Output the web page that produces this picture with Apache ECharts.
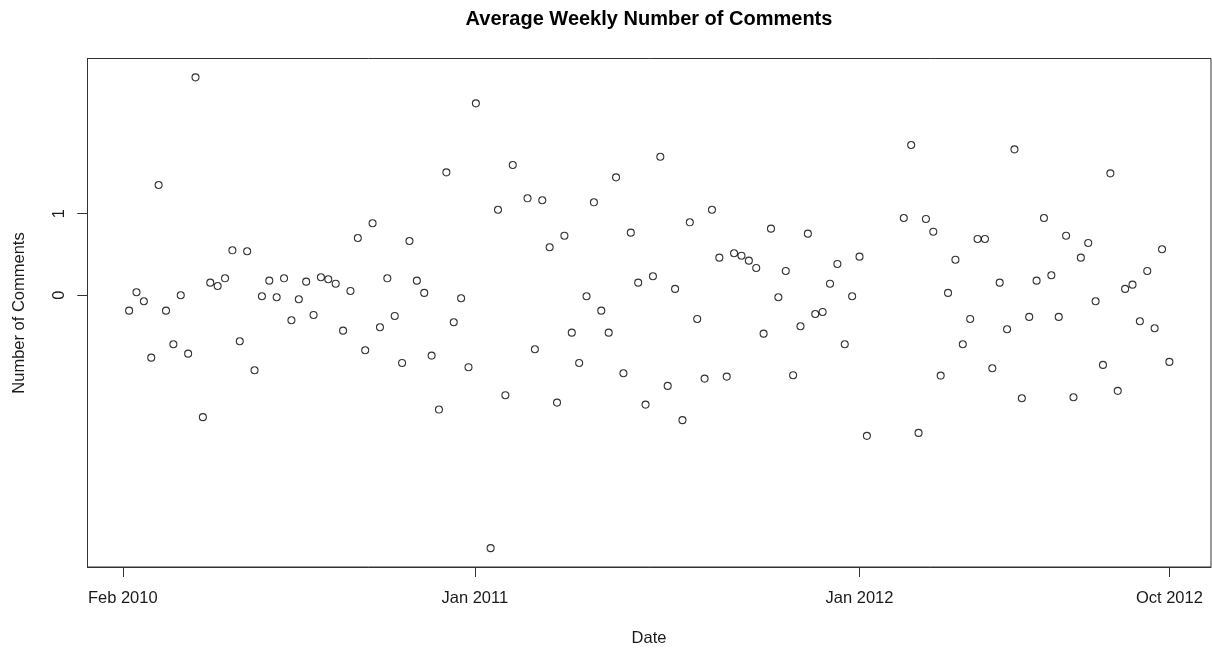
<!DOCTYPE html>
<html>
<head>
<meta charset="utf-8">
<title>Average Weekly Number of Comments</title>
<script src="https://cdn.jsdelivr.net/npm/echarts@6/dist/echarts.min.js"></script>
<style>
  html, body { margin: 0; padding: 0; background: #ffffff; }
  #chart { width: 1212px; height: 648px; }
</style>
</head>
<body>
<div id="chart"></div>
<script>
// First observed week (Sunday) and weekly averages; null = week without data
const firstWeek = '2010-02-07';
const weeklyComments = [
  -0.188, 0.037, -0.073, -0.764, 1.351, -0.188, -0.600, 0.000, -0.715, 2.670,
  -1.493, 0.155, 0.114, 0.208, 0.551, -0.563, 0.539, -0.918, -0.012, 0.179,
  -0.024, 0.208, -0.306, -0.049, 0.167, -0.241, 0.221, 0.196, 0.142, -0.433,
  0.053, 0.702, -0.673, 0.882, -0.392, 0.208, -0.253, -0.829, 0.665, 0.179,
  0.029, -0.739, -1.400, 1.506, -0.330, -0.036, -0.881, 2.351, null, -3.098,
  1.048, -1.224, 1.596, null, 1.188, -0.661, 1.164, 0.588, -1.315, 0.730,
  -0.458, -0.829, -0.012, 1.139, -0.188, -0.458, 1.445, -0.955, 0.767, 0.155,
  -1.339, 0.233, 1.697, -1.110, 0.078, -1.530, 0.894, -0.290, -1.021, 1.048,
  0.461, -0.996, 0.515, 0.485, 0.424, 0.335, -0.470, 0.816, -0.024, 0.298,
  -0.979, -0.379, 0.755, -0.229, -0.204, 0.142, 0.384, -0.600, -0.012, 0.473,
  -1.722, null, null, null, null, 0.947, 1.841, -1.686, 0.935, 0.779,
  -0.984, 0.029, 0.436, -0.600, -0.290, 0.690, 0.690, -0.894, 0.155, -0.416,
  1.788, -1.261, -0.265, 0.179, 0.947, 0.245, -0.265, 0.730, -1.249, 0.461,
  0.641, -0.073, -0.853, 1.494, -1.171, 0.078, 0.130, -0.318, 0.298, -0.404,
  0.564, -0.816
];

// Date axis ticks and their labels
const xTickDates = ['2010-02-01', '2011-01-01', '2012-01-01', '2012-10-21'];
const xTickLabels = ['Feb 2010', 'Jan 2011', 'Jan 2012', 'Oct 2012'];
// Value axis ticks
const yTickValues = [0, 1];

const DAY = 86400000;
const toMs = s => Date.parse(s + 'T00:00:00Z');
const start = toMs(firstWeek);

const points = [];
weeklyComments.forEach((v, i) => {
  if (v !== null) points.push([start + i * 7 * DAY, v]);
});

const xTicks = xTickDates.map(toMs);
const xFirst = start;
const xLast = start + (weeklyComments.length - 1) * 7 * DAY;
const xPad = (xLast - xFirst) * 0.04;

// 4% padding on both ends of the value range
const observed = weeklyComments.filter(v => v !== null);
const vMin = Math.min(...observed);
const vMax = Math.max(...observed);
const vPad = (vMax - vMin) * 0.04;

const FONT = '"Liberation Sans", Arial, Helvetica, sans-serif';
const INK = '#1a1a1a';
const FRAME = '#333';

const PLOT = { left: 87.5, top: 58.5, right: 1, bottom: 81 };
const TICK_LEN = 10;

const chart = echarts.init(document.getElementById('chart'), null, { renderer: 'canvas' });

chart.setOption({
  backgroundColor: '#ffffff',
  animation: false,
  grid: [
    {
      left: PLOT.left, top: PLOT.top, right: PLOT.right, bottom: PLOT.bottom,
      show: true, borderColor: FRAME, borderWidth: 1, backgroundColor: 'transparent'
    },
    // narrow strip left of the frame: its split lines at 0 and 1 form the outward value ticks
    {
      left: PLOT.left - TICK_LEN, width: TICK_LEN, top: PLOT.top, bottom: PLOT.bottom,
      show: false
    }
  ],
  xAxis: [
    {
      type: 'value',
      gridIndex: 0,
      position: 'bottom',
      min: xFirst - xPad,
      max: xLast + xPad,
      axisLine: { show: true, onZero: false, lineStyle: { color: FRAME, width: 1 } },
      splitLine: { show: false },
      axisTick: { show: true, length: TICK_LEN, lineStyle: { color: FRAME, width: 1 }, customValues: xTicks },
      axisLabel: {
        customValues: xTicks,
        margin: 23,
        fontFamily: FONT, fontSize: 16.5, color: INK,
        formatter: v => {
          const k = xTicks.indexOf(v);
          return k >= 0 ? xTickLabels[k] : '';
        }
      }
    },
    {
      type: 'value', gridIndex: 1, min: 0, max: 1, show: false
    }
  ],
  yAxis: [
    {
      type: 'value',
      gridIndex: 0,
      position: 'left',
      min: vMin - vPad,
      max: vMax + vPad,
      axisLine: { show: true, onZero: false, lineStyle: { color: FRAME, width: 1 } },
      splitLine: { show: false },
      axisTick: { show: true, length: TICK_LEN, lineStyle: { color: FRAME, width: 1 }, customValues: yTickValues },
      axisLabel: {
        customValues: yTickValues,
        rotate: 90,
        margin: 20,
        fontSize: 16.5, color: INK
      }
    },
    {
      type: 'value',
      gridIndex: 1,
      min: vMin - vPad,
      max: vMax + vPad,
      axisLine: { show: false, onZero: false },
      axisLabel: { show: false },
      axisTick: { show: false, customValues: yTickValues },
      splitLine: { show: true, lineStyle: { color: FRAME, width: 1, type: 'solid' } }
    }
  ],
  graphic: [
    {
      type: 'text', x: 649, y: 19,
      style: {
        text: 'Average Weekly Number of Comments',
        fontFamily: FONT, fontSize: 20, fontWeight: 'bold', fill: '#000',
        textAlign: 'center', textVerticalAlign: 'middle'
      }
    },
    {
      type: 'text', x: 649, y: 638,
      style: {
        text: 'Date',
        fontFamily: FONT, fontSize: 16.5, fill: INK,
        textAlign: 'center', textVerticalAlign: 'middle'
      }
    },
    {
      type: 'text', x: 19, y: 313, rotation: Math.PI / 2,
      style: {
        text: 'Number of Comments',
        fontFamily: FONT, fontSize: 16.5, fill: INK,
        textAlign: 'center', textVerticalAlign: 'middle'
      }
    }
  ],
  series: [{
    type: 'scatter',
    xAxisIndex: 0,
    yAxisIndex: 0,
    data: points,
    symbol: 'circle',
    symbolSize: 7,
    itemStyle: { color: 'rgba(0,0,0,0)', borderColor: '#000', borderWidth: 1.1 },
    emphasis: { disabled: true }
  }]
});
</script>
</body>
</html>
